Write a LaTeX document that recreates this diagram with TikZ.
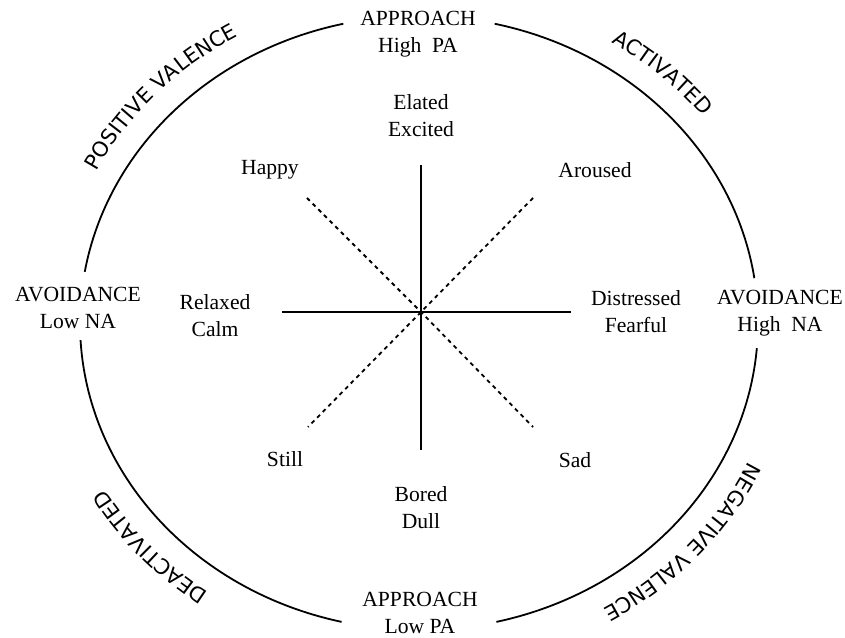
\documentclass[tikz,border=0pt]{standalone}
\usepackage{fontspec}
\setmainfont{Liberation Serif}
\newfontfamily\arcfont{DejaVu Sans}
\usepackage{tikz}
\usetikzlibrary{decorations.text}

\tikzset{
  lbl/.style={align=center,inner sep=1pt,font=\fontsize{10.8}{13.4}\selectfont},
  rim/.style={line width=0.9pt},
  axis/.style={line width=0.9pt},
  diag/.style={line width=0.9pt,dash pattern=on 2pt off 2pt},
  arclabel/.style={decorate,decoration={text along path,text align=center,
      text={|\arcfont\fontsize{10.5}{12}\selectfont|#1}}}
}

\begin{document}
\begin{tikzpicture}[x=0.5pt,y=0.5pt]
\path[use as bounding box,fill=white] (0,0) rectangle (845,637);
\coordinate (ctr) at (419,314);

% outer ring, broken at the four poles
\foreach \s/\e in {8.4/77.1,102.9/170.4,183.2/256.8,283.2/355.3}
  \draw[rim] (ctr) ++(\s:169.5pt and 153.5pt) arc[start angle=\s,end angle=\e,x radius=169.5pt,y radius=153.5pt];

% quadrant names, running clockwise outside the ring
\path[arclabel=POSITIVE VALENCE] (ctr) ++(160:181.5pt and 165.5pt) arc[start angle=160,end angle=113,x radius=181.5pt,y radius=165.5pt];
\path[arclabel=ACTIVATED] (ctr) ++(70:181.5pt and 165.5pt) arc[start angle=70,end angle=26,x radius=181.5pt,y radius=165.5pt];
\path[arclabel=NEGATIVE VALENCE] (ctr) ++(-18:181.5pt and 165.5pt) arc[start angle=-18,end angle=-66,x radius=181.5pt,y radius=165.5pt];
\path[arclabel=DEACTIVATED] (ctr) ++(246:181.5pt and 165.5pt) arc[start angle=246,end angle=198,x radius=181.5pt,y radius=165.5pt];

% poles
\node[lbl] (apphigh) at (418,603) {APPROACH\\High\ \ PA};
\node[lbl] (applow) at (420,24) {APPROACH\\Low PA};
\node[lbl] (avlow) at (78,329) {AVOIDANCE\\Low NA};
\node[lbl] (avhigh) at (780,324) {AVOIDANCE\\High\ \ NA};

% axes
\coordinate (o) at (421,325);
\coordinate (w) at (282,325);
\coordinate (e) at (571,325);
\coordinate (n) at (421,472);
\coordinate (s) at (421,187);
\coordinate (nw) at (307,439);
\coordinate (ne) at (533,439);
\coordinate (sw) at (308,210);
\coordinate (se) at (533,210);
\draw[axis] (w) -- (e) (n) -- (s);
\draw[diag] (nw) -- (o) -- (se) (ne) -- (o) -- (sw);

% moods
\node[lbl] (elated) at (421,521) {Elated\\Excited};
\node[lbl] (happy) at (270,467) {Happy};
\node[lbl] (aroused) at (595,467) {Aroused};
\node[lbl] (relaxed) at (215,321) {Relaxed\\Calm};
\node[lbl] (distressed) at (636,325) {Distressed\\Fearful};
\node[lbl] (still) at (285,178) {Still};
\node[lbl] (sad) at (575,177) {Sad};
\node[lbl] (bored) at (421,129) {Bored\\Dull};
\end{tikzpicture}
\end{document}
